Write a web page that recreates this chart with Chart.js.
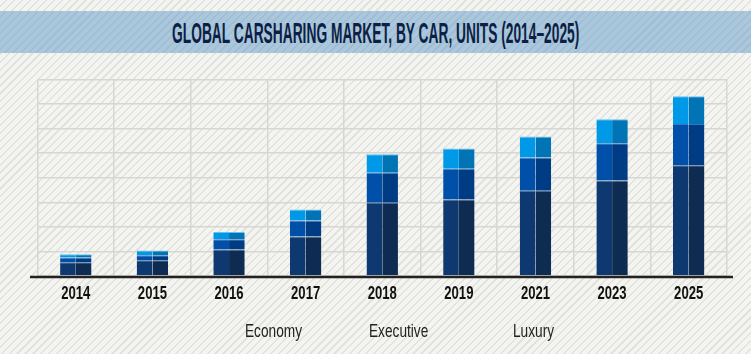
<!DOCTYPE html>
<html>
<head>
  <title>Global Carsharing Market, by Car</title>
  <script src="https://cdn.jsdelivr.net/npm/chart.js@4/dist/chart.umd.min.js"></script>
  <style>
    * {
      margin: 0;
      padding: 0;
      box-sizing: border-box;
    }

    body {
      width: 751px;
      height: 354px;
      overflow: hidden;
      position: relative;
      background-color: #f4f4f0;
      background-image: repeating-linear-gradient(135deg, #f4f4f0 0 4px, #e2e2de 4px 5.6px);
    }

    .title-band {
      position: absolute;
      left: 0;
      top: 11px;
      width: 751px;
      height: 42px;
      background-color: #aac7dc;
      background-image: repeating-linear-gradient(135deg, #aac7dc 0 4px, #9fbed5 4px 5.6px);
      display: flex;
      align-items: center;
      justify-content: center;
    }

    .title-text {
      display: inline-block;
      font-family: "Liberation Sans Narrow", "Liberation Sans", sans-serif;
      font-weight: bold;
      font-size: 30px;
      color: #0d1f45;
      white-space: nowrap;
      transform-origin: center;
      margin-top: 1px;
    }

    #chart {
      position: absolute;
      left: 0;
      top: 0;
    }
  </style>
</head>
<body>
<div class="title-band">
  <span class="title-text" id="title">GLOBAL CARSHARING MARKET, BY CAR, UNITS (2014–2025)</span>
</div>
<canvas id="chart" width="751" height="354"></canvas>

<script>
  // data (one grid step = 1 unit)
  const years = ['2014', '2015', '2016', '2017', '2018', '2019', '2021', '2023', '2025'];
  const economy = [0.56, 0.64, 1.08, 1.61, 2.98, 3.11, 3.47, 3.89, 4.51];
  const executive = [0.19, 0.20, 0.42, 0.65, 1.22, 1.26, 1.35, 1.51, 1.68];
  const luxury = [0.14, 0.20, 0.29, 0.45, 0.76, 0.82, 0.86, 0.98, 1.13];
  const legendNames = ['Economy', 'Executive', 'Luxury'];

  // fit the title to the width it has in the picture
  const title = document.getElementById('title');
  title.style.transform = 'scaleX(' + (407 / title.offsetWidth) + ')';

  const FONT = '"Liberation Sans Narrow", "Liberation Sans", sans-serif';

  function narrowText(ctx, text, x, y, sx) {
    ctx.save();
    ctx.translate(x, y);
    ctx.scale(sx, 1);
    ctx.fillText(text, 0, 0);
    ctx.restore();
  }

  const textPlugin = {
    id: 'textPlugin',
    afterDraw(chart) {
      const ctx = chart.ctx;
      const xs = chart.scales.x;
      const y0 = chart.scales.y.getPixelForValue(0);

      // baseline
      ctx.save();
      ctx.strokeStyle = '#222';
      ctx.lineWidth = 2.5;
      ctx.beginPath();
      ctx.moveTo(30, y0 + 1);
      ctx.lineTo(733, y0 + 1);
      ctx.stroke();

      // year labels
      ctx.fillStyle = '#111';
      ctx.font = 'bold 19px ' + FONT;
      ctx.textAlign = 'center';
      ctx.textBaseline = 'alphabetic';
      chart.data.labels.forEach((lab, i) => {
        narrowText(ctx, lab, xs.getPixelForTick(i), 299, 0.69);
      });

      // legend (text only, as in the picture)
      const legendX = [245, 369, 513];
      ctx.fillStyle = '#222';
      ctx.font = '19px ' + FONT;
      ctx.textAlign = 'left';
      legendNames.forEach((name, i) => {
        narrowText(ctx, name, legendX[i], 336.5, 0.72);
      });
      ctx.restore();
    }
  };

  function seg(label, data, color, edge, stack) {
    return {
      label: label,
      data: data,
      backgroundColor: color,
      borderColor: edge,
      borderWidth: {top: 1, right: 0, bottom: 0, left: 0},
      borderSkipped: false,
      stack: stack
    };
  }

  new Chart(document.getElementById('chart'), {
    type: 'bar',
    data: {
      labels: years,
      datasets: [
        seg('Economy', economy, '#0e3970', '#2f5e96', 'L'),
        seg('Executive', executive, '#0050aa', '#2f78c6', 'L'),
        seg('Luxury', luxury, '#0099e8', '#5cc3f5', 'L'),
        seg('Economy', economy, '#0e2b52', '#2f5e96', 'R'),
        seg('Executive', executive, '#003c84', '#2f78c6', 'R'),
        seg('Luxury', luxury, '#0074b4', '#5cc3f5', 'R')
      ]
    },
    options: {
      responsive: false,
      devicePixelRatio: 1,
      animation: false,
      categoryPercentage: 0.41,
      barPercentage: 1.0,
      layout: {
        padding: {left: 37.5, right: 24, top: 79.5, bottom: 78}
      },
      scales: {
        x: {
          stacked: true,
          offset: true,
          grid: {
            offset: true,
            color: '#d6d6d4',
            lineWidth: 1.5,
            drawTicks: false
          },
          border: {display: false},
          ticks: {display: false}
        },
        y: {
          stacked: true,
          min: 0,
          max: 8,
          ticks: {display: false, stepSize: 1},
          grid: {
            color: '#d6d6d4',
            lineWidth: 1.5,
            drawTicks: false
          },
          border: {display: false}
        }
      },
      plugins: {
        legend: {display: false},
        tooltip: {enabled: false}
      }
    },
    plugins: [textPlugin]
  });
</script>
</body>
</html>
